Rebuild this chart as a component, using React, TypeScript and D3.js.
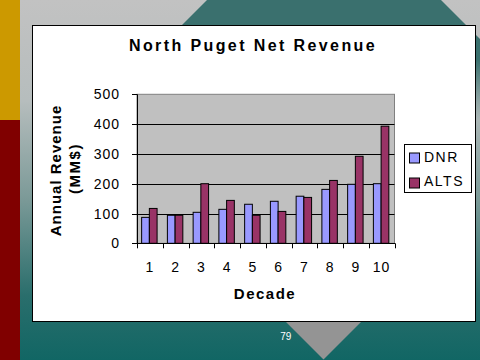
import React from "react";
import * as d3 from "d3";

const decades = ["1", "2", "3", "4", "5", "6", "7", "8", "9", "10"];
const seriesNames = ["DNR", "ALTS"];
const dnr = [87, 94, 104, 114, 131, 141, 158, 181, 198, 200];
const alts = [117, 94, 200, 144, 94, 107, 154, 211, 292, 393];
const yTicks = [0, 100, 200, 300, 400, 500];
const colors = ["#9999FF", "#993366"];

const FONT = "'Liberation Sans', Arial, sans-serif";

export default function App() {
  const W = 480, H = 360;
  const px0 = 137, px1 = 394.5, py0 = 94.3, py1 = 243.3;
  const x = d3.scaleBand<string>().domain(decades).range([px0, px1]).padding(0);
  const bw = x.bandwidth();
  const xi = d3.scaleBand<string>().domain(seriesNames).range([bw * 0.18, bw * 0.78]).padding(0);
  const y = d3.scaleLinear().domain([0, 500]).range([py1, py0]);
  const series = [dnr, alts];
  const boundaries = decades.map((d) => x(d) as number).concat([px1]);

  return (
    <svg width={W} height={H} style={{ position: "fixed", left: 0, top: 0 }} xmlns="http://www.w3.org/2000/svg">
      <defs>
        <linearGradient id="bg" x1="0" y1="0" x2="0" y2="1">
          <stop offset="0%" stopColor="#C2C2C2" />
          <stop offset="28%" stopColor="#B6BDBD" />
          <stop offset="55%" stopColor="#7C9A98" />
          <stop offset="82%" stopColor="#2A6E6C" />
          <stop offset="100%" stopColor="#116664" />
        </linearGradient>
        <linearGradient id="teal" x1="0" y1="0" x2="0" y2="120" gradientUnits="userSpaceOnUse">
          <stop offset="0" stopColor="#3A706E" stopOpacity="1" />
          <stop offset="0.5" stopColor="#3A706E" stopOpacity="1" />
          <stop offset="1" stopColor="#3A706E" stopOpacity="0" />
        </linearGradient>
      </defs>
      <rect x={0} y={0} width={W} height={H} fill="url(#bg)" />
      <polygon points="207,0 441,0 480,39 480,120 87,120" fill="url(#teal)" />
      <polygon points="264,300 383,300 323.5,359.5" fill="#949494" />
      <rect x={0} y={0} width={20} height={120} fill="#CC9900" />
      <rect x={0} y={120} width={20} height={240} fill="#800000" />
      <text x={285.7} y={340} fontFamily={FONT} fontSize={10} fill="#FFFFFF" textAnchor="middle">79</text>

      <rect x={32.5} y={25.5} width={443} height={296} fill="#FFFFFF" stroke="#000000" strokeWidth={1} />

      <text x={253} y={51} fontFamily={FONT} fontSize={16} fontWeight="bold" letterSpacing={2.4} textAnchor="middle" fill="#000">
        North Puget Net Revenue
      </text>

      <rect x={px0} y={py0} width={px1 - px0} height={py1 - py0} fill="#C0C0C0" stroke="#808080" strokeWidth={1} />
      {yTicks.filter((t) => t > 0 && t < 500).map((t) => (
        <line key={t} x1={px0} x2={px1} y1={Math.round(y(t)) + 0.5} y2={Math.round(y(t)) + 0.5} stroke="#000" strokeWidth={1} />
      ))}

      {decades.map((d, i) => (
        <g key={d}>
          {series.map((s, j) => {
            const bx = (x(d) as number) + (xi(seriesNames[j]) as number);
            const top = y(s[i]);
            return (
              <rect key={j} x={bx} y={top} width={xi.bandwidth()} height={py1 - top} fill={colors[j]} stroke="#000" strokeWidth={1} />
            );
          })}
        </g>
      ))}

      <line x1={px0 + 0.5} x2={px0 + 0.5} y1={py0} y2={py1} stroke="#000" strokeWidth={1} />
      <line x1={px0} x2={px1 + 0.5} y1={Math.round(py1) + 0.5} y2={Math.round(py1) + 0.5} stroke="#000" strokeWidth={1} />
      {yTicks.map((t) => (
        <g key={t}>
          <line x1={px0 - 5} x2={px0} y1={Math.round(y(t)) + 0.5} y2={Math.round(y(t)) + 0.5} stroke="#000" strokeWidth={1} />
          <text x={120} y={y(t) + 5} fontFamily={FONT} fontSize={14} letterSpacing={1} textAnchor="end" fill="#000">
            {t}
          </text>
        </g>
      ))}
      {boundaries.map((b, i) => (
        <line key={i} x1={Math.round(b) + 0.5} x2={Math.round(b) + 0.5} y1={py1} y2={py1 + 5} stroke="#000" strokeWidth={1} />
      ))}
      {decades.map((d) => (
        <text key={d} x={(x(d) as number) + bw / 2} y={272} fontFamily={FONT} fontSize={14} letterSpacing={1} textAnchor="middle" fill="#000">
          {d}
        </text>
      ))}

      <text x={265} y={299} fontFamily={FONT} fontSize={15} fontWeight="bold" letterSpacing={1.5} textAnchor="middle" fill="#000">
        Decade
      </text>
      <text transform="translate(61,170.5) rotate(-90)" fontFamily={FONT} fontSize={15} fontWeight="bold" letterSpacing={1} textAnchor="middle" fill="#000">
        Annual Revenue
      </text>
      <text transform="translate(80,168.5) rotate(-90)" fontFamily={FONT} fontSize={15} fontWeight="bold" letterSpacing={1.5} textAnchor="middle" fill="#000">
        (MM$)
      </text>

      <rect x={404.5} y={144.5} width={67} height={48} fill="#FFFFFF" stroke="#000" strokeWidth={1} />
      {seriesNames.map((n, j) => (
        <g key={n}>
          <rect x={409.5} y={153 + j * 25} width={10} height={10} fill={colors[j]} stroke="#000" strokeWidth={1} />
          <text x={424} y={162 + j * 24} fontFamily={FONT} fontSize={14} letterSpacing={1.5} fill="#000">
            {n}
          </text>
        </g>
      ))}
    </svg>
  );
}
